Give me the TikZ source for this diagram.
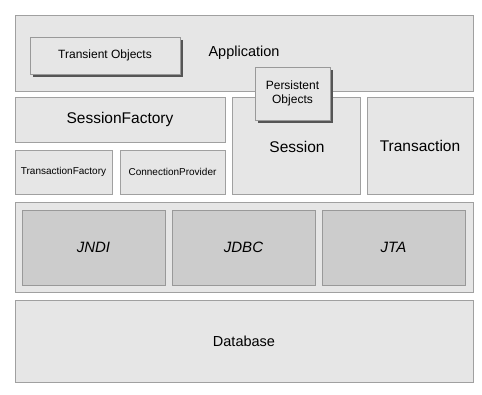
\documentclass[tikz,border=0pt]{standalone}
\usepackage{fontspec}
\setmainfont{Liberation Sans}
\usetikzlibrary{shadows}
\definecolor{layerfill}{HTML}{E6E6E6}
\definecolor{layerline}{HTML}{A0A0A0}
\definecolor{apifill}{HTML}{CCCCCC}
\definecolor{apiline}{HTML}{999999}
\definecolor{shade}{HTML}{555555}
\tikzset{
  layer/.style={draw=layerline,fill=layerfill,line width=0.9pt,inner sep=0pt},
  api/.style={draw=apiline,fill=apifill,line width=0.9pt,inner sep=0pt,
    font=\fontsize{15}{17}\selectfont\itshape},
  obj/.style={layer,draw=apiline,drop shadow={shadow xshift=3pt,shadow yshift=-3pt,fill=shade,opacity=1}},
  fs/.style={font=\fontsize{#1}{#1}\selectfont}
}
\begin{document}
\begin{tikzpicture}[x=1pt,y=-1pt]
\useasboundingbox[fill=white] (0,0) rectangle (482,394);
% ================= application layer =================
  \node[layer,fs=14.5,minimum width=458pt,minimum height=76pt] (app) at (244,53) {Application};
  \node[obj,fs=12,minimum width=150pt,minimum height=37pt] (transient) at (105,55.5) {Transient Objects};
% ================= hibernate layer =================
  \node[layer,fs=15.5,minimum width=210pt,minimum height=45pt] (sf) at (120,119.5) {SessionFactory};
  \node[layer,fs=10,minimum width=97pt,minimum height=44pt] (tf) at (63.5,172) {TransactionFactory};
  \node[layer,fs=10,minimum width=105pt,minimum height=44pt] (cp) at (172.5,172) {ConnectionProvider};
  \node[layer,fs=15.5,minimum width=128pt,minimum height=97pt] (session) at (296,145.5) {};
  \node[fs=15.5] at (297,147) {Session};
  \node[layer,fs=15.5,minimum width=106pt,minimum height=97pt] (tx) at (420,145.5) {Transaction};
  \node[obj,fs=12,align=center,minimum width=75pt,minimum height=53pt] (persistent) at (292.5,93.5)
        {Persistent\\[2pt]Objects};
% ================= java api layer =================
  \node[layer,minimum width=458pt,minimum height=90pt] (jee) at (244,247) {};
  \foreach \n/\x/\t in {jndi/93.5/JNDI,jdbc/243.5/JDBC,jta/393.5/JTA}
      \node[api,minimum width=143pt,minimum height=75pt] (\n) at (\x,247.5) {\t};
% ================= database =================
  \node[layer,fs=14.5,minimum width=458pt,minimum height=82pt] (db) at (244,341) {Database};
\end{tikzpicture}
\end{document}
